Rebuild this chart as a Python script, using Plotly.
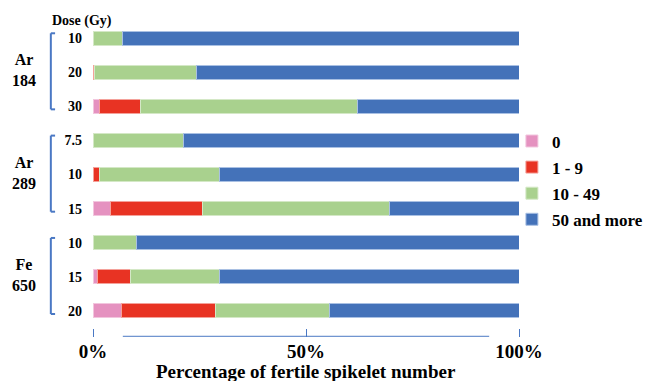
import plotly.graph_objects as go

# Rows top to bottom: ion beam / dose
groups = ["Ar<br>184", "Ar<br>289", "Fe<br>650"]
doses = ["10", "20", "30", "7.5", "10", "15", "10", "15", "20"]
row_group = [0, 0, 0, 1, 1, 1, 2, 2, 2]

# Share of plants (%) per fertile spikelet number class
cat_names = ["0", "1 - 9", "10 - 49", "50 and more"]
pct_0 = [0.0, 0.0, 1.6, 0.0, 0.0, 4.2, 0.0, 1.1, 6.6]
pct_1_9 = [0.0, 0.4, 9.5, 0.0, 1.6, 21.4, 0.0, 7.8, 22.1]
pct_10_49 = [7.0, 23.9, 50.9, 21.2, 28.0, 44.0, 10.3, 20.7, 26.9]
pct_50_up = [93.0, 75.7, 38.0, 78.8, 70.4, 30.4, 89.7, 70.4, 44.4]

colors = ["#E592C0", "#E83323", "#A9D18E", "#4472B9"]
edge_colors = ["#F2C6DE", "#F4A19A", "#D4E8C6", "#A9C0E3"]

SERIF = "Liberation Serif"
AXIS_BLUE = "#4A78C4"

rows = list(range(len(doses)))
series = [pct_0, pct_1_9, pct_10_49, pct_50_up]

fig = go.Figure()
for name, vals, col, edge in zip(cat_names, series, colors, edge_colors):
    fig.add_trace(go.Bar(
        y=rows, x=vals, orientation="h", name=f"<b>{name}</b>",
        marker=dict(color=col, line=dict(color=edge, width=1)),
        width=0.41, legendgroup=name,
    ))

fig.update_layout(
    barmode="stack",
    width=648, height=381,
    margin=dict(l=93, r=129, t=21, b=53, autoexpand=False),
    plot_bgcolor="white", paper_bgcolor="white",
    showlegend=True,
    legend=dict(
        xref="container", yref="container",
        x=0.79, y=0.676, xanchor="left", yanchor="top",
        font=dict(family=SERIF, size=17, color="black"),
        itemwidth=30, tracegroupgap=1, traceorder="grouped",
        bgcolor="rgba(0,0,0,0)",
    ),
    font=dict(family=SERIF, color="black"),
)

fig.update_xaxes(
    range=[0, 100], showgrid=False, zeroline=False, showline=False,
    tickvals=[0, 50, 100], ticktext=["<b>0%</b>", "<b>50%</b>", "<b>100%</b>"],
    ticks="outside", ticklen=8, tickcolor=AXIS_BLUE, tickwidth=1,
    ticklabelstandoff=-2,
    tickfont=dict(family=SERIF, size=19, color="black"),
)
fig.update_yaxes(
    range=[8.5, -0.5], showgrid=False, zeroline=False, showline=False,
    tickvals=rows, ticktext=[f"<b>{d}</b>" for d in doses],
    tickfont=dict(family=SERIF, size=14, color="black"),
    ticklabelstandoff=10,
)

# Axis title under the percentage ticks
fig.add_annotation(text="<b>Percentage of fertile spikelet number</b>",
                   xref="paper", yref="paper", x=0.5, y=-0.143, xanchor="center",
                   yanchor="middle", showarrow=False,
                   font=dict(family=SERIF, size=19, color="black"))

# Partial baseline under the bars
fig.add_shape(type="line", xref="x", yref="paper", x0=7, x1=93, y0=-0.027, y1=-0.027,
              line=dict(color=AXIS_BLUE, width=1))

# Axis header for dose labels
fig.add_annotation(text="<b>Dose (Gy)</b>", xref="paper", yref="paper",
                   x=0.049, y=1.0, xanchor="right", yanchor="middle", showarrow=False,
                   font=dict(family=SERIF, size=14, color="black"))

# Group brackets and labels
bracket_x = -0.099
tick_x = -0.089
for g, label in enumerate(groups):
    members = [r for r in rows if row_group[r] == g]
    top, bottom = members[0] - 0.14, members[-1] + 0.09
    fig.add_shape(type="line", xref="paper", yref="y", x0=bracket_x, x1=bracket_x,
                  y0=top, y1=bottom, line=dict(color=AXIS_BLUE, width=2))
    for yy in (top, bottom):
        fig.add_shape(type="line", xref="paper", yref="y", x0=bracket_x, x1=tick_x,
                      y0=yy, y1=yy, line=dict(color=AXIS_BLUE, width=2))
    mid = sum(members) / len(members)
    fig.add_annotation(text=f"<b>{label}</b>", xref="paper", yref="y",
                       x=-0.162, y=mid - 0.05, xanchor="center", yanchor="middle",
                       showarrow=False,
                       font=dict(family=SERIF, size=16, color="black"))

fig.write_html("out.html")
